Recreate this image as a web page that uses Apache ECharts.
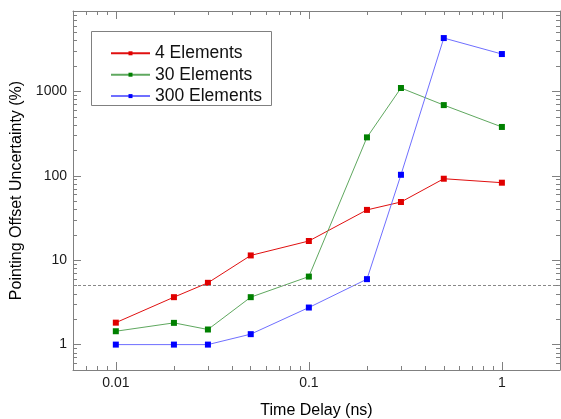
<!DOCTYPE html>
<html>
<head>
<meta charset="utf-8">
<script src="https://cdn.jsdelivr.net/npm/echarts@6/dist/echarts.min.js"></script>
<style>
html,body{margin:0;padding:0;background:#fff;}
#c{width:561px;height:419px;}
</style>
</head>
<body>
<div id="c"></div>
<script>
// ---- data ----
const delays = [0.01, 0.02, 0.03, 0.05, 0.1, 0.2, 0.3, 0.5, 1];
const elements4 = [1.82, 3.65, 5.4, 11.4, 16.9, 39.5, 49, 92.5, 83];
const elements30 = [1.44, 1.81, 1.51, 3.65, 6.4, 286, 1100, 690, 380];
const elements300 = [1.0, 1.0, 1.0, 1.33, 2.75, 5.97, 103, 4300, 2780];
const seriesNames = ['4 Elements', '30 Elements', '300 Elements'];
const threshold = 5;

const xRange = [0.006, 2];
const yRange = [0.5, 9000];
const xMajor = [0.01, 0.1, 1];
const xMinor = [0.007, 0.008, 0.009, 0.02, 0.03, 0.04, 0.05, 0.06, 0.07, 0.08, 0.09,
                0.2, 0.3, 0.4, 0.5, 0.6, 0.7, 0.8, 0.9];
const yMajor = [1, 10, 100, 1000];
const yMinor = [0.6, 0.7, 0.8, 0.9, 2, 3, 4, 5, 6, 7, 8, 9, 20, 30, 40, 50, 60, 70, 80, 90,
                200, 300, 400, 500, 600, 700, 800, 900, 2000, 3000, 4000, 5000, 6000, 7000, 8000];

const FONT = '"Liberation Sans", Arial, sans-serif';
const axisColor = '#808080';
const fmt = v => String(+Number(v).toPrecision(6));

function mkAxis(position, range, ticks, len, withLine, labels, extra) {
  const ax = {
    type: 'log', logBase: 10, min: range[0], max: range[1],
    position: position, offset: 0, gridIndex: 0,
    axisLine: { show: withLine, onZero: false, lineStyle: { color: axisColor, width: 1 } },
    axisTick: { show: true, inside: true, length: len, customValues: ticks,
                lineStyle: { color: axisColor, width: 1 } },
    minorTick: { show: false },
    splitLine: { show: false },
    axisLabel: labels ? {
      show: true, customValues: labels, formatter: fmt, margin: 6,
      color: '#1a1a1a', fontSize: 14, fontFamily: FONT
    } : { show: false }
  };
  return Object.assign(ax, extra || {});
}

const nameStyle = { color: '#000', fontSize: 16, fontFamily: FONT };

const chart = echarts.init(document.getElementById('c'), null, { renderer: 'canvas' });

function mkSeries(name, vals, lineColor, markColor, extra) {
  return Object.assign({
    name: name, type: 'line', xAxisIndex: 0, yAxisIndex: 0,
    data: delays.map((d, i) => [d, vals[i]]),
    symbol: 'rect', symbolSize: 6, showSymbol: true,
    lineStyle: { color: lineColor, width: 1 },
    itemStyle: { color: markColor },
    emphasis: { disabled: true }
  }, extra || {});
}

chart.setOption({
  animation: false,
  backgroundColor: '#fff',
  grid: { left: 73, right: 1, top: 11, bottom: 49, containLabel: false, outerBoundsMode: 'none' },
  xAxis: [
    mkAxis('bottom', xRange, xMajor, 8, true, xMajor, {
      name: 'Time Delay (ns)', nameLocation: 'middle', nameGap: 33, nameTextStyle: nameStyle }),
    mkAxis('bottom', xRange, xMinor, 4, false, null),
    mkAxis('top', xRange, xMajor, 8, true, null),
    mkAxis('top', xRange, xMinor, 4, false, null)
  ],
  yAxis: [
    mkAxis('left', yRange, yMajor, 8, true, yMajor, {
      name: 'Pointing Offset Uncertainty (%)', nameLocation: 'middle', nameGap: 47,
      nameRotate: 90, nameTextStyle: nameStyle }),
    mkAxis('left', yRange, yMinor, 4, false, null),
    mkAxis('right', yRange, yMajor, 8, true, null),
    mkAxis('right', yRange, yMinor, 4, false, null)
  ],
  graphic: [{
    type: 'rect', z: 3, silent: true,
    shape: { x: 91.5, y: 31.5, width: 180, height: 74 },
    style: { fill: '#fff', stroke: axisColor, lineWidth: 1 }
  }],
  legend: {
    orient: 'vertical', left: 110, top: 44.3, z: 5,
    padding: 0,
    itemWidth: 39, itemHeight: 5, itemGap: 3.4,
    textStyle: { color: '#111', fontSize: 17.5, fontFamily: FONT },
    data: seriesNames,
    selectedMode: false
  },
  series: [
    mkSeries(seriesNames[0], elements4, '#e01010', '#e00000', {
      markLine: {
        silent: true, symbol: ['none', 'none'],
        lineStyle: { color: '#888', width: 1, type: [3, 2] },
        label: { show: false },
        data: [{ yAxis: threshold }]
      }
    }),
    mkSeries(seriesNames[1], elements30, '#5fa85f', '#008000'),
    mkSeries(seriesNames[2], elements300, '#6f6fff', '#0000ff')
  ]
});
</script>
</body>
</html>
